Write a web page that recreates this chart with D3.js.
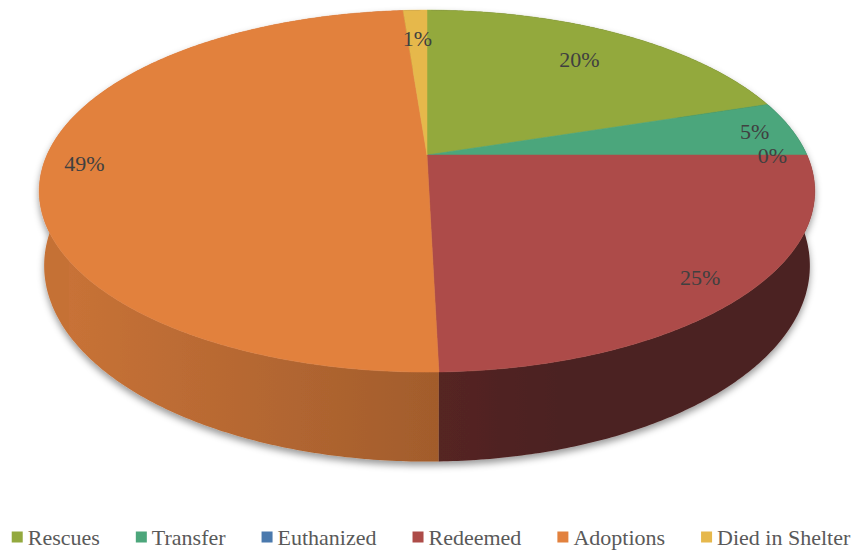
<!DOCTYPE html>
<html>
<head>
<meta charset="utf-8">
<script src="https://cdn.jsdelivr.net/npm/d3@7"></script>
<style>
  body { margin: 0; background: #fff; }
  svg { display: block; }
</style>
</head>
<body>
<script>
// data
var categories = ["Rescues", "Transfer", "Euthanized", "Redeemed", "Adoptions", "Died in Shelter"];
var values = [20.0, 5.0, 0.0, 24.6, 49.2, 1.2];
var colors = ["#93A93E", "#4CA67B", "#4A79AD", "#AD4C48", "#E2813E", "#E6B84C"];

var totalWidth = 856, totalHeight = 555;

var svg = d3.select("body")
    .append("svg")
    .attr("width", totalWidth)
    .attr("height", totalHeight);

var defs = svg.append("defs");

var shadow = defs.append("filter")
    .attr("id", "shadow")
    .attr("x", "-10%").attr("y", "-10%")
    .attr("width", "120%").attr("height", "130%");
shadow.append("feDropShadow")
    .attr("dx", 0).attr("dy", 4)
    .attr("stdDeviation", 3.5)
    .attr("flood-color", "#000")
    .attr("flood-opacity", 0.4);

// perspective projection of the pie disc
var cx = 427, cy = 155, k = 380;
var tilt = 0.475;      // radians, view angle from above
var dist = 4.46;       // camera distance in pie radii
var thick = 0.212;     // pie height in pie radii
var taper = 0.06;      // bottom face a little narrower than the top

function proj(r, th, h) {
  var x = r * Math.sin(th), z = -r * Math.cos(th);
  var yp = -z * Math.sin(tilt);
  var zp = z * Math.cos(tilt);
  var s = dist / (dist - zp);
  var sx = s * (1 + taper * h);
  return [cx + sx * x * k, cy - s * yp * k - s * h * Math.cos(tilt) * k];
}

function rim(a0, a1, h) {
  var n = Math.max(2, Math.ceil(Math.abs(a1 - a0) / 0.01));
  var pts = [];
  for (var j = 0; j <= n; j++) pts.push(proj(1, a0 + (a1 - a0) * j / n, h));
  return pts;
}

var pie = d3.pie().sort(null).value(d => d);
var total = d3.sum(values);
var arcs = pie(values).map(function(a, i) {
  return {i: i, a0: a.startAngle, a1: a.endAngle, mid: (a.startAngle + a.endAngle) / 2, v: a.value};
});

var line = d3.line();

// light coming from the left and a little from the front
var lx = -1, lz = 0.25, ll = Math.hypot(lx, lz);
function lit(th) {
  return Math.max(0, (Math.sin(th) * lx - Math.cos(th) * lz) / ll);
}
function shade(th, mid) {
  return 0.44 + 0.46 * (0.5 * lit(th) + 0.5 * lit(mid));
}
function tint(col, f) {
  var c = d3.rgb(col);
  return d3.rgb(c.r * f, c.g * f, c.b * f).formatHex();
}

var sil = Math.asin(Math.cos(tilt) / dist);
var sil0 = Math.PI / 2 - sil, sil1 = 3 * Math.PI / 2 + sil;

var gPie = svg.append("g").attr("filter", "url(#shadow)");

// side walls, far ones first
var wallOrder = arcs.filter(d => d.v > 0).slice().sort((p, q) => -Math.cos(p.mid) - -Math.cos(q.mid));

wallOrder.forEach(function(d) {
  var top = rim(d.a0, d.a1, 0);
  var bottom = rim(d.a1, d.a0, -thick);
  var fill;
  var f0 = Math.max(d.a0, sil0), f1 = Math.min(d.a1, sil1);
  if (f1 > f0) {
    var id = "wall" + d.i;
    var xs = proj(1, f0, 0)[0], xe = proj(1, f1, 0)[0];
    var grad = defs.append("linearGradient")
        .attr("id", id)
        .attr("gradientUnits", "userSpaceOnUse")
        .attr("x1", xs).attr("y1", 0)
        .attr("x2", xe).attr("y2", 0);
    var n = 12;
    for (var j = 0; j <= n; j++) {
      var th = f0 + (f1 - f0) * j / n;
      var px = proj(1, th, 0)[0];
      grad.append("stop")
          .attr("offset", Math.abs(xe - xs) < 1e-6 ? 0 : (px - xs) / (xe - xs))
          .attr("stop-color", tint(colors[d.i], shade(th, d.mid)));
    }
    fill = "url(#" + id + ")";
  } else {
    fill = tint(colors[d.i], shade(d.mid, d.mid));
  }
  gPie.append("path")
      .attr("d", line(top.concat(bottom)) + "Z")
      .attr("fill", fill);
});

// top faces
var centre = proj(0, 0, 0);
gPie.selectAll("path.top")
    .data(arcs.filter(d => d.v > 0))
    .enter()
    .append("path")
    .attr("class", "top")
    .attr("d", d => line([centre].concat(rim(d.a0, d.a1, 0))) + "Z")
    .attr("fill", d => colors[d.i])
    .attr("stroke", d => colors[d.i])
    .attr("stroke-width", 0.5)
    .attr("stroke-linejoin", "round");

// data labels, placed inside the end of each slice
var labels = svg.append("g")
    .attr("font-family", "'Liberation Serif', 'Times New Roman', serif")
    .attr("font-size", 22)
    .attr("fill", "#404040");

arcs.forEach(function(d) {
  var t = labels.append("text")
      .attr("text-anchor", "middle")
      .attr("dy", "0.35em")
      .text(Math.round(d.v / total * 100) + "%");
  var bb = t.node().getBBox();
  var r = proj(1, d.mid, 0);
  var ux = r[0] - centre[0], uy = r[1] - centre[1];
  var len = Math.hypot(ux, uy);
  ux /= len; uy /= len;
  var inset = Math.abs(ux) * (bb.width / 2 + 20) + Math.abs(uy) * 25;
  t.attr("x", r[0] - ux * inset).attr("y", r[1] - uy * inset);
});

// legend
var legend = svg.append("g")
    .attr("font-family", "'Liberation Serif', 'Times New Roman', serif")
    .attr("font-size", 22)
    .attr("fill", "#595959");

var legendY = 537, box = 11, gap = 36;
var items = categories.map(function(c, i) {
  var g = legend.append("g");
  g.append("rect")
      .attr("y", legendY - box / 2)
      .attr("width", box).attr("height", box)
      .attr("fill", colors[i]);
  var t = g.append("text")
      .attr("x", box + 5)
      .attr("y", legendY)
      .attr("dy", "0.35em")
      .text(c);
  return {g: g, w: box + 5 + t.node().getComputedTextLength()};
});
var legendWidth = d3.sum(items, d => d.w) + gap * (items.length - 1);
var lxPos = 431 - legendWidth / 2;
items.forEach(function(it) {
  it.g.attr("transform", "translate(" + lxPos + ",0)");
  lxPos += it.w + gap;
});
</script>
</body>
</html>
